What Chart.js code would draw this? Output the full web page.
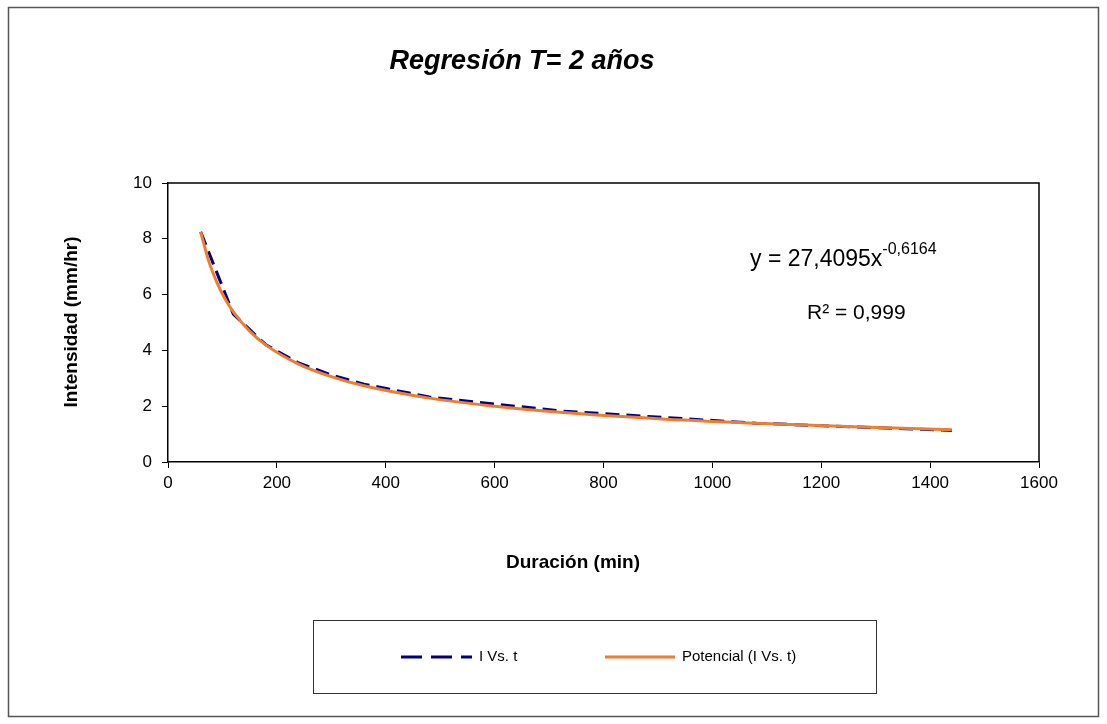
<!DOCTYPE html>
<html>
<head>
<meta charset="utf-8">
<script src="https://cdn.jsdelivr.net/npm/chart.js@4.4.1/dist/chart.umd.min.js"></script>
<style>
  html, body { margin: 0; padding: 0; background: #fff; }
  canvas { display: block; }
</style>
</head>
<body>
<canvas id="regChart" width="1107" height="724"></canvas>
<script>
// data
const durations = [60, 120, 180, 240, 300, 360, 480, 720, 1080, 1440];
const intensities = [8.25, 5.30, 4.20, 3.55, 3.12, 2.79, 2.33, 1.83, 1.39, 1.13];

// power trend line (Potencial)
const trendDurations = [60, 75, 90, 105, 120, 150, 180, 240, 300, 360, 480, 600, 720, 900, 1080, 1260, 1440];
const trendIntensities = [8.25, 7.19, 6.43, 5.84, 5.38, 4.69, 4.19, 3.51, 3.06, 2.73, 2.29, 2.00, 1.78, 1.55, 1.39, 1.26, 1.16];

const xTicks = [0, 200, 400, 600, 800, 1000, 1200, 1400, 1600];
const yTicks = [0, 2, 4, 6, 8, 10];

const titleText = "Regresión T= 2 años";
const xTitle = "Duración (min)";
const yTitle = "Intensidad (mm/hr)";
const seriesNames = ["I Vs. t", "Potencial (I Vs. t)"];

const FONT = "'Liberation Sans', Arial, Helvetica, sans-serif";
const blue = "#000080";
const orange = "#ED7D31";

function toPoints(xs, ys) {
    return xs.map((x, i) => ({ x: x, y: ys[i] }));
}

// draws frame, titles, equation and legend box like the Excel chart
const decorations = {
    id: "decorations",
    afterDraw(chart) {
        const ctx = chart.ctx;
        const area = chart.chartArea;
        ctx.save();

        // outer chart border
        ctx.strokeStyle = "#555";
        ctx.lineWidth = 1.5;
        ctx.strokeRect(8.5, 7.5, 1090, 709);

        // plot area frame (top and right)
        ctx.strokeStyle = "#000";
        ctx.lineWidth = 1.5;
        ctx.beginPath();
        ctx.moveTo(area.left, area.top);
        ctx.lineTo(area.right, area.top);
        ctx.lineTo(area.right, area.bottom);
        ctx.stroke();

        ctx.fillStyle = "#000";

        // title
        ctx.font = "italic bold 27px " + FONT;
        ctx.textAlign = "center";
        ctx.textBaseline = "middle";
        ctx.fillText(titleText, 522, 62);

        // axis titles
        ctx.font = "bold 19px " + FONT;
        ctx.fillText(xTitle, 573, 563);
        ctx.save();
        ctx.translate(72, 322);
        ctx.rotate(-Math.PI / 2);
        ctx.fillText(yTitle, 0, 0);
        ctx.restore();

        // trend equation
        ctx.textAlign = "left";
        ctx.textBaseline = "alphabetic";
        ctx.font = "23px " + FONT;
        const eq = "y = 27,4095x";
        ctx.fillText(eq, 750, 266);
        const w = ctx.measureText(eq).width;
        ctx.font = "16px " + FONT;
        ctx.fillText("-0,6164", 750 + w, 254);
        ctx.font = "21px " + FONT;
        ctx.fillText("R² = 0,999", 807, 319);

        // legend box
        ctx.strokeStyle = "#333";
        ctx.lineWidth = 1;
        ctx.strokeRect(313.5, 620.5, 563, 73);
        const ly = 657;
        ctx.lineWidth = 3;
        ctx.strokeStyle = blue;
        ctx.setLineDash([21, 9]);
        ctx.beginPath();
        ctx.moveTo(401, ly);
        ctx.lineTo(472, ly);
        ctx.stroke();
        ctx.setLineDash([]);
        ctx.strokeStyle = orange;
        ctx.beginPath();
        ctx.moveTo(605, ly);
        ctx.lineTo(675, ly);
        ctx.stroke();
        ctx.font = "15px " + FONT;
        ctx.textBaseline = "middle";
        ctx.fillText(seriesNames[0], 479, ly);
        ctx.fillText(seriesNames[1], 682, ly);

        ctx.restore();
    }
};

new Chart(document.getElementById("regChart"), {
    type: "line",
    data: {
        datasets: [
            {
                label: seriesNames[0],
                data: toPoints(durations, intensities),
                borderColor: blue,
                borderWidth: 3,
                borderDash: [14, 7],
                pointRadius: 0,
                tension: 0,
                fill: false,
                order: 2
            },
            {
                label: seriesNames[1],
                data: toPoints(trendDurations, trendIntensities),
                borderColor: orange,
                borderWidth: 3,
                pointRadius: 0,
                cubicInterpolationMode: "monotone",
                fill: false,
                order: 1
            }
        ]
    },
    options: {
        responsive: false,
        animation: false,
        layout: { padding: { left: 0, top: 183, right: 68, bottom: 0 } },
        plugins: {
            legend: { display: false },
            title: { display: false },
            tooltip: { enabled: false }
        },
        scales: {
            x: {
                type: "linear",
                min: 0,
                max: 1600,
                afterBuildTicks: s => { s.ticks = xTicks.map(v => ({ value: v })); },
                afterFit: s => { s.height = 262; },
                grid: { display: true, drawOnChartArea: false, drawTicks: true, tickLength: 6, color: "#000" },
                border: { display: true, color: "#000", width: 1.5 },
                ticks: {
                    color: "#000", padding: 5, maxRotation: 0,
                    font: { family: FONT, size: 17 },
                    callback: v => String(v)
                }
            },
            y: {
                type: "linear",
                min: 0,
                max: 10,
                afterBuildTicks: s => { s.ticks = yTicks.map(v => ({ value: v })); },
                afterFit: s => { s.width = 168; },
                grid: { display: true, drawOnChartArea: false, drawTicks: true, tickLength: 6, color: "#000" },
                border: { display: true, color: "#000", width: 1.5 },
                ticks: {
                    color: "#000", padding: 10,
                    font: { family: FONT, size: 17 },
                    callback: v => String(v)
                }
            }
        }
    },
    plugins: [decorations]
});
</script>
</body>
</html>
